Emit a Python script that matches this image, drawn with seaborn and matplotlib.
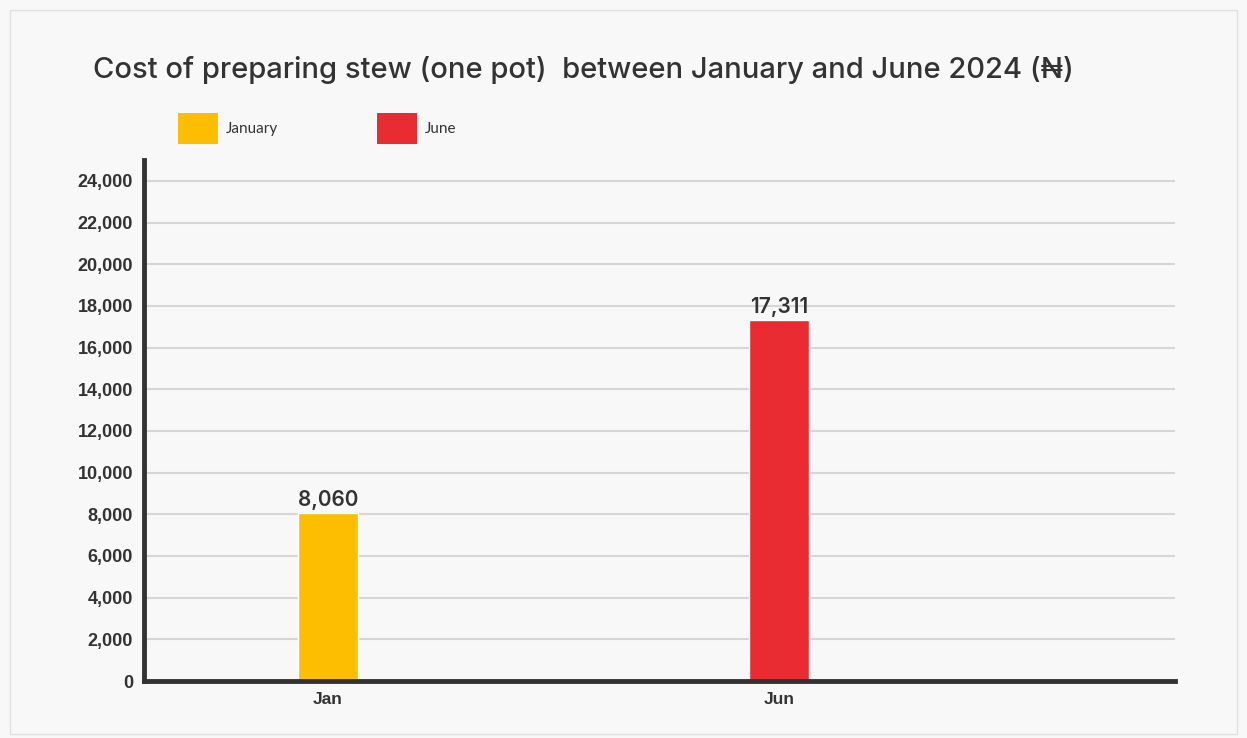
import matplotlib
matplotlib.use("Agg")
import matplotlib.pyplot as plt
import matplotlib.patches as mpatches
import seaborn as sns
import pandas as pd

months = ["Jan", "Jun"]
legend_labels = ["January", "June"]
costs = [8060, 17311]
bar_colors = ["#FDBD00", "#E92B32"]
y_ticks = [0, 2000, 4000, 6000, 8000, 10000, 12000, 14000, 16000, 18000, 20000, 22000, 24000]
title = "Cost of preparing stew (one pot)  between January and June 2024 (₦)"

sns.set_theme(style="white")
plt.rcParams["font.family"] = ["Liberation Sans", "DejaVu Sans"]

bg = "#F8F8F8"
dark = "#333333"

fig = plt.figure(figsize=(12.47, 7.38), dpi=100, facecolor=bg)
ax = fig.add_axes([0.1155, 0.0772, 0.8265, 0.706])
ax.set_facecolor(bg)

df = pd.DataFrame({"month": months, "cost": costs})
sns.barplot(data=df, x="month", y="cost", hue="month", palette=bar_colors,
            width=0.133, dodge=False, legend=False, ax=ax, saturation=1)

ax.set_xlim(-0.408, 1.878)
ax.set_ylim(0, 25000)
ax.set_yticks(y_ticks)
ax.set_yticklabels([f"{v:,}" for v in y_ticks], fontsize=13, fontweight="bold", color=dark)
ax.set_xticks(range(len(months)))
ax.set_xticklabels(months, fontsize=12.5, fontweight="bold", color=dark)
ax.set_xlabel("")
ax.set_ylabel("")
ax.tick_params(axis="both", length=0, pad=8)

ax.yaxis.grid(True, color="#D6D6D6", linewidth=1.5)
ax.set_axisbelow(True)
for s in ["top", "right"]:
    ax.spines[s].set_visible(False)
for s in ["left", "bottom"]:
    ax.spines[s].set_color(dark)
    ax.spines[s].set_linewidth(3.5)

for p, v in zip(ax.patches, costs):
    ax.text(p.get_x() + p.get_width() / 2, p.get_height() + 150, f"{v:,}",
            ha="center", va="bottom", fontsize=15, color=dark, fontweight="semibold",
            family=["Inter", "DejaVu Sans"])

fig.text(0.0745, 0.905, title, fontsize=21, color=dark, ha="left", va="center",
         fontweight="medium", family=["Inter", "DejaVu Sans"])

handles = [mpatches.Patch(facecolor=c, edgecolor="none", label=l)
           for c, l in zip(bar_colors, legend_labels)]
leg = fig.legend(handles=handles, loc="center left", bbox_to_anchor=(0.132, 0.826),
                 ncol=2, frameon=False, handlelength=2.6, handleheight=2.7,
                 handletextpad=0.5, columnspacing=6.5,
                 prop={"family": ["Lato", "DejaVu Sans"], "size": 11})
for t in leg.get_texts():
    t.set_color(dark)

fig.add_artist(mpatches.Rectangle((0.008, 0.005), 0.984, 0.982, transform=fig.transFigure,
                                  fill=False, edgecolor="#E0E0E0", linewidth=1))

fig.savefig("out.png", dpi=100, facecolor=bg)
